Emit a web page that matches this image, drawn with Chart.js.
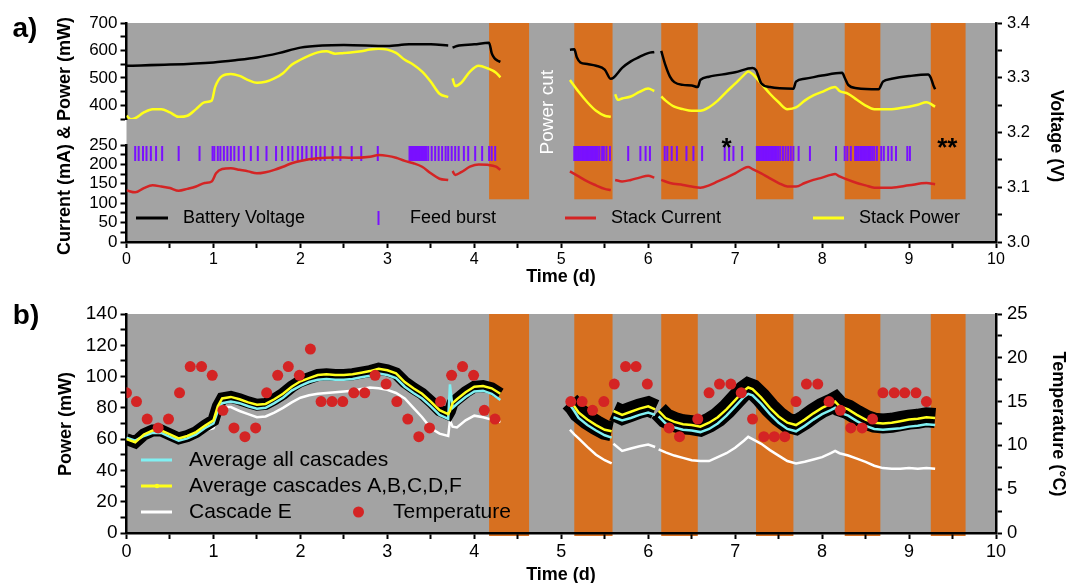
<!DOCTYPE html>
<html>
<head>
<meta charset="utf-8">
<script src="https://cdn.jsdelivr.net/npm/chart.js@4.4.0/dist/chart.umd.min.js"></script>
<style>
  html, body { margin: 0; padding: 0; background: #fff; }
  #wrap { position: relative; width: 1069px; height: 583px; }
  #chartA { position: absolute; left: 0; top: 0; }
  #chartB { position: absolute; left: 0; top: 290px; }
</style>
</head>
<body>
<div id="wrap">
  <canvas id="chartA" width="1069" height="290"></canvas>
  <canvas id="chartB" width="1069" height="293"></canvas>
</div>
<script>
// ---- data (time in days) ----
const nightStart = [4.17, 5.15, 6.15, 7.24, 8.26, 9.25];
const nightEnd = [4.63, 5.59, 6.57, 7.67, 8.67, 9.65];

// panel a) battery voltage (V)
const batteryT = [0, 0.5, 1.0, 1.25, 1.5, 1.75, 2.0, 2.25, 2.5, 3.0, 3.25, 3.5, 3.7, 3.72, 3.75, 3.8, 4.0, 4.17, 4.2, 4.23,
  4.27, 4.3, 4.5, 5.1, 5.15, 5.18, 5.22, 5.3, 5.4, 5.5, 5.57, 5.6, 5.7, 5.8, 5.9, 6.0, 6.07, 6.1, 6.15, 6.2,
  6.25, 6.3, 6.4, 6.5, 6.57, 6.6, 6.7, 7.0, 7.2, 7.24, 7.3, 7.4, 7.67, 7.7, 7.8, 8.0, 8.23, 8.26, 8.3, 8.4,
  8.65, 8.7, 8.8, 9.0, 9.22, 9.25, 9.28, 9.3];
const batteryV = [3.322, 3.324, 3.328, 3.332, 3.337, 3.345, 3.355, 3.359, 3.360, 3.358, 3.361, 3.361, 3.359, null, 3.355, 3.358, 3.361, 3.364, 3.345, 3.336,
  3.331, 3.329, null, 3.351, 3.352, 3.337, 3.328, 3.325, 3.322, 3.315, 3.298, 3.300, 3.318, 3.330, 3.338, 3.345, 3.347, null, 3.349, 3.322,
  3.302, 3.292, 3.287, 3.286, 3.283, 3.296, 3.302, 3.310, 3.318, 3.314, 3.290, 3.283, 3.280, 3.293, 3.298, 3.304, 3.309, 3.300, 3.287, 3.281,
  3.279, 3.293, 3.298, 3.303, 3.306, 3.300, 3.286, 3.279];

// panel a) stack power (mW)
const powerT = [0, 0.05, 0.1, 0.2, 0.3, 0.4, 0.5, 0.6, 0.7, 0.8, 0.9, 0.98, 1.02, 1.1, 1.2, 1.3, 1.4, 1.5, 1.6, 1.7,
  1.8, 1.9, 2.0, 2.1, 2.2, 2.3, 2.4, 2.5, 2.6, 2.7, 2.8, 2.9, 3.0, 3.1, 3.2, 3.3, 3.4, 3.5, 3.6, 3.7,
  3.72, 3.75, 3.78, 3.85, 3.95, 4.05, 4.15, 4.25, 4.3, 4.5, 5.1, 5.2, 5.3, 5.4, 5.5, 5.57, 5.6, 5.62, 5.65, 5.7,
  5.8, 5.9, 6.0, 6.07, 6.1, 6.15, 6.2, 6.3, 6.4, 6.5, 6.6, 6.7, 6.8, 6.9, 7.0, 7.1, 7.15, 7.2, 7.3, 7.4,
  7.5, 7.6, 7.7, 7.8, 7.9, 8.0, 8.1, 8.15, 8.2, 8.3, 8.4, 8.5, 8.6, 8.7, 8.8, 8.9, 9.0, 9.1, 9.2, 9.3];
const stackPower = [362, 349, 353, 374, 386, 386, 374, 358, 362, 386, 411, 417, 467, 507, 514, 507, 492, 482, 486, 498,
  517, 548, 566, 581, 593, 597, 588, 591, 593, 597, 603, 606, 603, 591, 566, 548, 523, 486, 442, 430,
  null, 498, 470, 482, 523, 544, 535, 519, 502, null, 492, 449, 411, 380, 362, 358, null, 440, 420, 425,
  432, 449, 461, 452, null, 432, 417, 395, 386, 380, 380, 393, 417, 449, 479, 510, 523, 514, 479, 442,
  411, 386, 392, 417, 436, 449, 463, 467, 452, 442, 420, 399, 386, 386, 386, 390, 395, 402, 411, 395];

// panel a) stack current (mA)
const currentT = [0, 0.1, 0.2, 0.3, 0.4, 0.5, 0.6, 0.7, 0.8, 0.9, 0.98, 1.03, 1.1, 1.2, 1.3, 1.4, 1.5, 1.6, 1.7, 1.8,
  1.9, 2.0, 2.2, 2.4, 2.6, 2.8, 2.9, 3.0, 3.1, 3.2, 3.3, 3.4, 3.5, 3.6, 3.7, 3.72, 3.75, 3.78, 3.85, 3.95,
  4.05, 4.15, 4.25, 4.3, 4.5, 5.1, 5.2, 5.3, 5.4, 5.5, 5.57, 5.6, 5.62, 5.7, 5.8, 5.9, 6.0, 6.07, 6.1, 6.15,
  6.25, 6.4, 6.5, 6.6, 6.7, 6.8, 6.9, 7.0, 7.1, 7.15, 7.2, 7.3, 7.4, 7.5, 7.6, 7.7, 7.8, 7.9, 8.0, 8.1,
  8.15, 8.2, 8.3, 8.4, 8.5, 8.6, 8.8, 9.0, 9.2, 9.3];
const stackCurrent = [133, 128, 139, 146, 143, 139, 132, 137, 143, 152, 156, 177, 188, 190, 186, 182, 177, 180, 186, 194,
  203, 209, 216, 218, 217, 220, 224, 222, 217, 209, 203, 194, 177, 163, 160, null, 183, 173, 180, 194,
  200, 199, 194, 186, null, 182, 169, 156, 146, 137, 134, null, 160, 156, 160, 166, 171, 166, null, 160,
  152, 147, 143, 140, 146, 156, 166, 177, 190, 193, 188, 177, 164, 152, 143, 143, 152, 160, 166, 173,
  175, 169, 160, 152, 146, 140, 140, 146, 152, 149];

// panel a) feed bursts (time of each burst)
const feedBurstT = [0.10, 0.14, 0.19, 0.23, 0.28, 0.34, 0.41, 0.60, 0.84, 0.99, 1.01, 1.05, 1.08, 1.12, 1.16, 1.20, 1.24, 1.29, 1.35, 1.43,
  1.51, 1.61, 1.72, 1.79, 1.86, 1.91, 1.97, 2.02, 2.07, 2.13, 2.18, 2.23, 2.28, 2.37, 2.46, 2.59, 2.70, 2.89,
  3.255, 3.267, 3.279, 3.291, 3.303, 3.315, 3.327, 3.339, 3.351, 3.363, 3.375, 3.387, 3.399, 3.411, 3.423, 3.435, 3.447,
  3.47, 3.51, 3.55, 3.59, 3.63, 3.67, 3.70, 3.74, 3.78, 3.82, 3.88, 3.93, 4.01, 4.09, 4.17, 4.20, 4.24,
  5.15, 5.165, 5.18, 5.195, 5.21, 5.225, 5.24, 5.255, 5.27, 5.285, 5.30, 5.315, 5.33, 5.345, 5.36, 5.375, 5.39, 5.405, 5.42,
  5.44, 5.47, 5.49, 5.52, 5.56, 5.77, 5.91, 5.97, 6.02, 6.19, 6.22, 6.27, 6.33, 6.44, 6.52, 6.62, 6.88, 6.93, 6.98, 7.08,
  7.25, 7.265, 7.28, 7.295, 7.31, 7.325, 7.34, 7.355, 7.37, 7.385, 7.40, 7.415, 7.43, 7.445, 7.46, 7.48, 7.50, 7.52,
  7.55, 7.58, 7.61, 7.64, 7.67, 7.73, 7.86, 8.16, 8.26, 8.29, 8.33, 8.38, 8.40, 8.42, 8.44, 8.455, 8.47, 8.485, 8.50,
  8.515, 8.53, 8.545, 8.56, 8.58, 8.60, 8.63, 8.68, 8.71, 8.76, 8.80, 8.85, 8.98, 9.01];
const burstLevel = 228;

// panel b) cascade power (mW)
const cascadeT = [0, 0.1, 0.2, 0.3, 0.4, 0.5, 0.6, 0.7, 0.8, 0.9, 1.0, 1.05,
  1.1, 1.2, 1.3, 1.4, 1.5, 1.6, 1.7, 1.8, 1.9, 2.0, 2.1, 2.2, 2.3, 2.4, 2.5, 2.6, 2.7, 2.8, 2.9, 3.0, 3.1, 3.2, 3.3, 3.4, 3.5, 3.6, 3.7,
  3.72, 3.75, 3.8, 3.9, 4.0, 4.1, 4.2, 4.3, 4.5,
  5.1, 5.15, 5.2, 5.3, 5.4, 5.5, 5.58, 5.59, 5.6, 5.7, 5.8, 5.9, 6.0, 6.08, 6.1, 6.12, 6.2,
  6.3, 6.4, 6.5, 6.6, 6.7, 6.8, 6.9, 7.0, 7.1, 7.15,
  7.2, 7.3, 7.4, 7.5, 7.6, 7.7, 7.8, 7.9, 8.0, 8.1, 8.15,
  8.2, 8.3, 8.4, 8.5, 8.6, 8.7, 8.8, 8.9, 9.0, 9.1, 9.2, 9.3];
const avgABCDF = [60, 58, 63, 65.5, 65.5, 63, 60.5, 62, 64.5, 68.5, 72, 81,
  86, 87, 85.5, 83.5, 82, 82.5, 85.5, 89, 93.5, 97, 99, 101, 101.5, 101, 101, 101.5, 102.5, 103.5, 105, 104, 102, 96.5, 92.5, 89, 84, 78.5, 76,
  78, 83, 85.5, 90, 93.5, 94, 92.5, 89, null,
  84, 81, 77, 72.5, 69, 66, 65, null, 78, 75.5, 77.5, 79.5, 81, 79, null, 78, 73.5,
  71, 69.5, 69, 68, 70.5, 74, 79, 85, 91, 93,
  92, 86.5, 80, 74.5, 70.5, 69, 72.5, 76.5, 80, 82.5, 84,
  81, 79, 75.5, 72.5, 70.5, 70, 70.5, 71.5, 72.5, 73, 74, 73.5];
const avgAll = [61, 59, 62, 64, 64, 61.5, 59, 60.5, 63, 67, 70, 78,
  83, 84, 83, 81, 79.5, 80, 83, 86.5, 91, 94, 96.5, 98, 98.5, 98, 98, 98.5, 99.5, 100.5, 102, 101, 99, 93.5, 89.5, 86, 81, 75.5, 73,
  95, 80, 82.5, 87, 90.5, 91, 89, 85, null,
  82, 78, 73.5, 69, 65.5, 62.5, 61, null, 74, 72, 73.5, 75.5, 77, 75.5, null, 74.5, 70,
  67.5, 66, 65.5, 64.5, 66.5, 70, 75, 81, 87, 89,
  88, 82.5, 76, 70.5, 66.5, 65, 68.5, 72.5, 76, 78.5, 80,
  77, 75, 71.5, 68.5, 66.5, 66, 66.5, 67, 68, 68.5, 69.5, 69];
const cascadeE = [60, 59, 62.5, 64.5, 64, 61.5, 59, 60.5, 62.5, 65.5, 67, 74,
  80.5, 80.5, 78, 76, 74, 74.5, 77, 80, 83.5, 86.5, 88, 89, 89.5, 90, 90.5, 91, 92, 93, 92.5, 91.5, 89.5, 86, 80, 74, 67, 63.5, 62,
  72, 68, 67.5, 72, 75, 74, 72.5, 71, null,
  66, 63, 60.5, 55, 50, 46.5, 44.5, null, 57, 52.5, 54, 55.5, 56.5, 55, null, 53.5, 51.5,
  49.5, 48, 46.5, 46, 46, 48.5, 51, 54.5, 59, 61.5,
  60, 57, 53, 49.5, 46, 44.5, 45.5, 47, 48.5, 51, 52.5,
  51, 49.5, 47.5, 45.5, 43, 41.5, 41, 41, 41.5, 41, 41.5, 41];

// panel b) temperature (°C)
const tempT = [0, 0.115, 0.238, 0.364, 0.483, 0.61, 0.733, 0.863, 0.986, 1.109, 1.236, 1.362, 1.485, 1.612, 1.739, 1.861, 1.988, 2.115,
  2.238, 2.364, 2.487, 2.614, 2.74, 2.859, 2.986, 3.109, 3.235, 3.362, 3.485, 3.612, 3.739, 3.865, 3.992, 4.115, 4.238,
  5.11, 5.24, 5.36, 5.49, 5.61, 5.74, 5.86, 5.99, 6.24, 6.36, 6.57, 6.70, 6.82, 6.95, 7.07, 7.20,
  7.33, 7.45, 7.57, 7.70, 7.82, 7.95, 8.08, 8.21, 8.33, 8.46, 8.58, 8.70, 8.83, 8.95, 9.08, 9.20];
const temperature = [16, 15, 13, 12, 13, 16, 19, 19, 18, 14, 12, 11, 12, 16, 18, 19, 18, 21,
  15, 15, 15, 16, 16, 18, 17, 15, 13, 11, 12, 15, 18, 19, 18, 14, 13,
  15, 15, 14, 15, 17, 19, 19, 17, 12, 11, 13, 16, 17, 17, 16, 13,
  11, 11, 11, 15, 17, 17, 15, 14, 12, 12, 13, 16, 16, 16, 16, 15];

// ---- styling ----
const FONT = "'Liberation Sans', Arial, sans-serif";
const GREY = '#a3a3a3';
const ORANGE = '#d77020';
const PURPLE = '#7a10ff';
const RED = '#d42424';
const YELLOW = '#ffff1a';
const CYAN = '#80f0f2';

Chart.defaults.font.family = FONT;
Chart.defaults.color = '#000';

function pts(ts, vs) {
  return ts.map((t, i) => ({ x: t, y: vs[i] }));
}

// label only every n-th step
function every(n, fmt) {
  return (v) => (Math.abs(v / n - Math.round(v / n)) < 1e-6 ? fmt(v) : '');
}

function axis(min, max, step, position, size, labelFn, fit) {
  const pad = position === 'bottom' ? 2 : position === 'left' ? 3 : 5;
  return {
    type: 'linear',
    position: position,
    min: min,
    max: max,
    border: { color: '#000', width: 2.5 },
    grid: { drawOnChartArea: false, tickLength: 6, tickColor: '#000', tickWidth: 2 },
    ticks: { stepSize: step, autoSkip: false, maxRotation: 0, color: '#000', padding: pad, font: { size: size }, callback: labelFn },
    afterFit: fit,
  };
}

// grey plot background + orange night bands
function bandsPlugin(bottomFn) {
  return {
    id: 'bands',
    beforeDraw(chart) {
      const { ctx, chartArea: a, scales } = chart;
      ctx.save();
      ctx.fillStyle = GREY;
      ctx.fillRect(a.left, a.top, a.right - a.left, a.bottom - a.top);
      const bottom = bottomFn(chart);
      ctx.fillStyle = ORANGE;
      nightStart.forEach((s, i) => {
        const x0 = scales.x.getPixelForValue(s);
        const x1 = scales.x.getPixelForValue(nightEnd[i]);
        ctx.fillRect(x0, a.top, x1 - x0, bottom - a.top);
      });
      ctx.restore();
    },
  };
}

function text(ctx, str, x, y, font, color, angle, align) {
  ctx.save();
  ctx.translate(x, y);
  if (angle) ctx.rotate(angle);
  ctx.font = font;
  ctx.fillStyle = color || '#000';
  ctx.textAlign = align || 'center';
  ctx.textBaseline = 'middle';
  ctx.fillText(str, 0, 0);
  ctx.restore();
}

function hline(ctx, x0, x1, y, color, w) {
  ctx.save();
  ctx.strokeStyle = color;
  ctx.lineWidth = w;
  ctx.beginPath();
  ctx.moveTo(x0, y);
  ctx.lineTo(x1, y);
  ctx.stroke();
  ctx.restore();
}

// ---- panel a ----
const decorA = {
  id: 'decorA',
  afterDatasetsDraw(chart) {
    const { ctx, scales } = chart;
    const x = scales.x, v = scales.yVolt;
    text(ctx, 'Power cut', x.getPixelForValue(4.85), v.getPixelForValue(3.237), `19px ${FONT}`, '#fff', -Math.PI / 2);
    text(ctx, '*', x.getPixelForValue(6.9), v.getPixelForValue(3.17), `bold 26px ${FONT}`);
    text(ctx, '**', x.getPixelForValue(9.44), v.getPixelForValue(3.17), `bold 26px ${FONT}`);
  },
  afterDraw(chart) {
    const ctx = chart.ctx;
    const ds = chart.data.datasets;
    const y = 218;
    const f = `18px ${FONT}`;
    hline(ctx, 136, 168, y, '#000', 3);
    text(ctx, ds[0].label, 183, y, f, '#000', 0, 'left');
    ctx.save();
    ctx.strokeStyle = PURPLE;
    ctx.lineWidth = 2;
    ctx.beginPath();
    ctx.moveTo(378.5, y - 7);
    ctx.lineTo(378.5, y + 7);
    ctx.stroke();
    ctx.restore();
    text(ctx, ds[1].label, 410, y, f, '#000', 0, 'left');
    hline(ctx, 565, 596, y, RED, 3);
    text(ctx, ds[2].label, 611, y, f, '#000', 0, 'left');
    hline(ctx, 813, 844, y, YELLOW, 3);
    text(ctx, ds[3].label, 859, y, f, '#000', 0, 'left');

    const tf = `bold 18px ${FONT}`;
    text(ctx, 'Current (mA) & Power (mW)', 65, 136, tf, '#000', -Math.PI / 2);
    text(ctx, 'Voltage (V)', 1056, 136, tf, '#000', Math.PI / 2);
    text(ctx, 'Time (d)', 561, 277, tf);
    text(ctx, 'a)', 25, 29, `bold 28px ${FONT}`);
  },
};

new Chart(document.getElementById('chartA'), {
  type: 'line',
  data: {
    datasets: [
      { label: 'Battery Voltage', data: pts(batteryT, batteryV), yAxisID: 'yVolt', borderColor: '#000', borderWidth: 2.5,
        pointRadius: 0, cubicInterpolationMode: 'monotone', spanGaps: false, order: 0 },
      { label: 'Feed burst', data: feedBurstT.map((t) => ({ x: t, y: burstLevel })), yAxisID: 'yCur', showLine: false,
        pointStyle: 'line', pointRotation: 90, pointRadius: 7.5, pointBorderWidth: 2, borderColor: PURPLE,
        pointBorderColor: PURPLE, order: 3 },
      { label: 'Stack Current', data: pts(currentT, stackCurrent), yAxisID: 'yCur', borderColor: RED, borderWidth: 2.5,
        pointRadius: 0, cubicInterpolationMode: 'monotone', spanGaps: false, order: 2 },
      { label: 'Stack Power', data: pts(powerT, stackPower), yAxisID: 'yPow', borderColor: YELLOW, borderWidth: 2.5,
        pointRadius: 0, cubicInterpolationMode: 'monotone', spanGaps: false, order: 1 },
    ],
  },
  options: {
    responsive: false,
    animation: false,
    events: [],
    devicePixelRatio: 1,
    layout: { padding: { top: 23, left: 0, right: 0, bottom: 0 } },
    plugins: { legend: { display: false }, tooltip: { enabled: false } },
    scales: {
      x: axis(0, 10, 0.5, 'bottom', 16, every(1, (v) => String(Math.round(v))), (s) => { s.height = 48; }),
      yPow: Object.assign(axis(350, 700, 50, 'left', 17, (v) => (v >= 400 && v % 100 === 0 ? v : ''), (s) => { s.width = 126.5; }),
        { stack: 'left', stackWeight: 96, weight: 3 }),
      yGap: { type: 'linear', position: 'left', min: 0, max: 1, display: false, stack: 'left', stackWeight: 26, weight: 2,
        afterFit: (s) => { s.width = 126.5; } },
      yCur: Object.assign(axis(0, 250, 25, 'left', 17, every(50, (v) => Math.round(v)), (s) => { s.width = 126.5; }),
        { stack: 'left', stackWeight: 97, weight: 1 }),
      yVolt: axis(3.0, 3.4, 0.05, 'right', 16.5, every(0.1, (v) => v.toFixed(1)), (s) => { s.width = 73; }),
    },
  },
  plugins: [bandsPlugin((chart) => chart.scales.yVolt.getPixelForValue(3.078)), decorA],
});

// ---- panel b ----
const decorB = {
  id: 'decorB',
  afterDraw(chart) {
    const ctx = chart.ctx;
    const ds = chart.data.datasets;
    const f = `21px ${FONT}`;
    hline(ctx, 141, 172, 170, CYAN, 3);
    text(ctx, ds[2].label, 189, 170, f, '#000', 0, 'left');
    hline(ctx, 141, 172, 196, YELLOW, 3);
    ctx.save();
    ctx.fillStyle = YELLOW;
    ctx.beginPath();
    ctx.arc(157, 196, 2.2, 0, Math.PI * 2);
    ctx.fill();
    ctx.restore();
    text(ctx, ds[1].label, 189, 196, f, '#000', 0, 'left');
    hline(ctx, 141, 172, 222, '#fff', 3);
    text(ctx, ds[4].label, 189, 222, f, '#000', 0, 'left');
    ctx.save();
    ctx.fillStyle = RED;
    ctx.beginPath();
    ctx.arc(358.5, 222, 5.5, 0, Math.PI * 2);
    ctx.fill();
    ctx.restore();
    text(ctx, ds[0].label, 393, 222, f, '#000', 0, 'left');

    const tf = `bold 18px ${FONT}`;
    text(ctx, 'Power (mW)', 66, 134, tf, '#000', -Math.PI / 2);
    text(ctx, 'Temperature (°C)', 1058, 134, tf, '#000', Math.PI / 2);
    text(ctx, 'Time (d)', 561, 285, tf);
    text(ctx, 'b)', 26, 26, `bold 28px ${FONT}`);
  },
};

new Chart(document.getElementById('chartB'), {
  type: 'line',
  data: {
    datasets: [
      { label: 'Temperature', data: pts(tempT, temperature), yAxisID: 'yT', showLine: false, pointRadius: 5.5,
        pointBackgroundColor: RED, pointBorderWidth: 0, borderColor: RED, order: 0 },
      { label: 'Average cascades A,B,C,D,F', data: pts(cascadeT, avgABCDF), yAxisID: 'yP', borderColor: YELLOW,
        borderWidth: 2.5, pointRadius: 0, spanGaps: false, order: 1 },
      { label: 'Average all cascades', data: pts(cascadeT, avgAll), yAxisID: 'yP', borderColor: CYAN,
        borderWidth: 2.5, pointRadius: 0, spanGaps: false, order: 2 },
      { label: 'error', data: pts(cascadeT, avgABCDF), yAxisID: 'yP', borderColor: '#000', borderWidth: 12,
        borderCapStyle: 'butt', pointRadius: 0, spanGaps: false, order: 3,
        segment: { borderWidth: (c) => (c.p0.parsed.x >= 5 ? 20 : 12) } },
      { label: 'Cascade E', data: pts(cascadeT, cascadeE), yAxisID: 'yP', borderColor: '#fff',
        borderWidth: 2.5, pointRadius: 0, spanGaps: false, order: 4 },
    ],
  },
  options: {
    responsive: false,
    animation: false,
    events: [],
    devicePixelRatio: 1,
    layout: { padding: { top: 24, left: 0, right: 0, bottom: 0 } },
    plugins: { legend: { display: false }, tooltip: { enabled: false } },
    scales: {
      x: axis(0, 10, 0.5, 'bottom', 18, every(1, (v) => String(Math.round(v))), (s) => { s.height = 50; }),
      yP: axis(0, 140, 10, 'left', 19, every(20, (v) => Math.round(v)), (s) => { s.width = 126.5; }),
      yT: axis(0, 25, 2.5, 'right', 18.5, every(5, (v) => Math.round(v)), (s) => { s.width = 73; }),
    },
  },
  plugins: [bandsPlugin((chart) => chart.chartArea.bottom + 3), decorB],
});
</script>
</body>
</html>
